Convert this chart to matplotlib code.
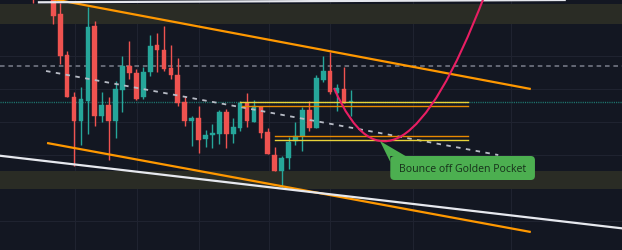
import matplotlib
matplotlib.use("Agg")
import matplotlib.pyplot as plt
from matplotlib.patches import FancyBboxPatch, Polygon, PathPatch, Rectangle
from matplotlib.path import Path
import numpy as np

# ---------------- data (bar index / price units) ----------------
bar_index = [-3] + list(range(0, 44))
opens  = [262, 258, 236, 195, 153, 129, 149, 224, 134, 145, 129, 160, 184, 177, 153, 178, 205, 200, 182, 175,
          148, 129, 132, 111, 115, 116, 138, 116, 122, 147, 128, 143, 118, 95, 79, 92, 109, 114, 140, 122,
          170, 179, 157, 161, 148]
highs  = [265, 262, 247, 199, 158, 163, 243, 229, 158, 153, 169, 194, 209, 181, 183, 215, 217, 224, 205, 192,
          154, 134, 144, 120, 126, 140, 141, 132, 149, 157, 150, 144, 122, 103, 94, 113, 128, 143, 149, 175,
          194, 198, 166, 183, 160]
lows   = [247, 226, 186, 153, 84, 105, 116, 124, 128, 90, 112, 138, 171, 150, 151, 174, 178, 179, 171, 144,
          124, 104, 97, 103, 102, 106, 102, 107, 119, 123, 128, 112, 96, 79, 63, 81, 105, 99, 119, 122,
          168, 156, 139, 147, 134]
closes = [256, 234, 194, 153, 129, 151, 223, 134, 145, 129, 161, 184, 177, 151, 178, 204, 200, 181, 175, 147,
          129, 132, 110, 115, 117, 138, 116, 123, 147, 129, 144, 117, 96, 79, 92, 108, 114, 140, 122, 172,
          179, 158, 162, 147, 149]

# drawings
upper_channel = ([-0.9, 69.0], [252, 161])
lower_channel = ([-0.9, 69.0], [107, 18])
white_low_line = ([-8.0, 83.0], [94.5, 21.0])
white_top_line = ([-2.07, 73.9], [247.7, 250.0])
mid_dashed = ([-1.05, 64.3], [179, 95])
dashed_level = 184
last_price = 148
fib_upper = (27.0, 59.9, 148.5, 144.5)   # x0, x1, yellow, orange
fib_lower = (32.0, 59.9, 114.3, 109.7)   # x0, x1, orange, yellow
zones = [(226, 246), (61, 79)]
curve_pts = [(40.56, 162), (49.38, 21), (62.24, 253)]
callout_box = (48.7, 69.6, 70, 94)
callout_tip = (47.2, 109)
callout_text = "Bounce off Golden Pocket"
grid_x = [3.14, 12.1, 21.1, 31.2, 40.0, 52.0, 66.1]
grid_y = [29, 62, 95, 128, 161, 194, 227]

# ---------------- style ----------------
BG = "#131722"
GRID = "#1f2330"
UP = "#26a69a"
DOWN = "#ef5350"
ORANGE = "#ff9800"
WHITE = "#e6e8ee"

fig = plt.figure(figsize=(6.22, 2.51), dpi=100)
fig.patch.set_facecolor(BG)
ax = fig.add_axes([0, 0, 1, 1])
ax.set_facecolor(BG)
XMIN, XMAX = -7.70, 82.18
ax.set_xlim(XMIN, XMAX)
ax.set_ylim(0, 251)
ax.axis("off")

for gx in grid_x:
    ax.axvline(gx, color=GRID, lw=0.8, zorder=0)
for gy in grid_y:
    ax.axhline(gy, color=GRID, lw=0.8, zorder=0)

for lo, hi in zones:
    ax.axhspan(lo, hi, color="#2a2c25", lw=0, zorder=0.5)

# candles
w = 0.68
for i, o, h, l, c in zip(bar_index, opens, highs, lows, closes):
    col = UP if c >= o else DOWN
    ax.vlines(i, l, h, color=col, lw=1.0, zorder=3)
    bot = min(o, c)
    ht = max(abs(c - o), 0.8)
    ax.add_patch(Rectangle((i - w / 2, bot), w, ht, facecolor=col, edgecolor=col, lw=0.3, zorder=4))

# levels
ax.axhline(dashed_level, color="#7b7f8c", lw=1.1, linestyle=(0, (3, 2.5)), zorder=2)
ax.axhline(last_price, color="#1f7a72", lw=1.0, linestyle=(0, (0.8, 0.8)), zorder=2)

ax.plot(*mid_dashed, color="#b8bcc6", lw=1.3, linestyle=(0, (2.5, 3)), zorder=5)

for x0, x1, ya, yb in [fib_upper]:
    ax.plot([x0, x1], [ya, ya], color="#e8d33a", lw=1.0, zorder=5)
    ax.plot([x0 + 0.3, x1], [yb, yb], color="#e88a00", lw=1.0, zorder=5)
for x0, x1, ya, yb in [fib_lower]:
    ax.plot([x0, x1], [ya, ya], color="#e88a00", lw=1.0, zorder=5)
    ax.plot([x0, x1], [yb, yb], color="#e8d33a", lw=1.0, zorder=5)

# channel & trend lines
ax.plot(*upper_channel, color=ORANGE, lw=1.6, solid_capstyle="butt", zorder=6)
ax.plot(*lower_channel, color=ORANGE, lw=1.6, solid_capstyle="butt", zorder=6)
ax.plot(*white_low_line, color=WHITE, lw=1.6, zorder=6)
ax.plot(*white_top_line, color=WHITE, lw=1.6, zorder=6)

# curve
path = Path(curve_pts, [Path.MOVETO, Path.CURVE3, Path.CURVE3])
ax.add_patch(PathPatch(path, facecolor="none", edgecolor="#e91e63", lw=1.5, zorder=7))

# callout
bx0, bx1, by0, by1 = callout_box
aspect = 6.92
box = FancyBboxPatch((bx0, by0), bx1 - bx0, by1 - by0,
                     boxstyle="round,pad=0,rounding_size=0.6", mutation_aspect=aspect,
                     facecolor="#4caf50", edgecolor="none", zorder=8)
ax.add_patch(box)
ax.add_patch(Polygon([callout_tip, (bx0 + 2.2, by1), (bx0, by1), (bx0, by1 - 6)], closed=True,
                     facecolor="#4caf50", edgecolor="none", zorder=8))
ax.text((bx0 + bx1) / 2, (by0 + by1) / 2 - 0.5, callout_text, color="#16301a", fontsize=7.6,
        family=["Open Sans", "DejaVu Sans"], ha="center", va="center", zorder=9)

fig.savefig("out.png", dpi=100, facecolor=BG)
